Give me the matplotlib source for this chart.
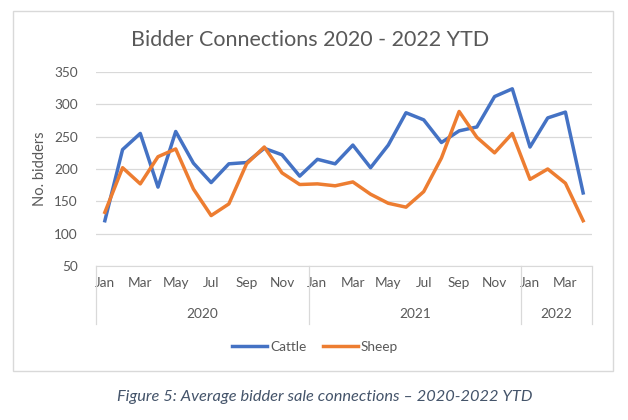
import numpy as np
import matplotlib
matplotlib.use("Agg")
import matplotlib.pyplot as plt
from matplotlib.patches import Rectangle
from matplotlib.lines import Line2D

plt.rcParams["font.family"] = ["Lato", "DejaVu Sans"]

months = ["Jan", "Feb", "Mar", "Apr", "May", "Jun", "Jul", "Aug", "Sep", "Oct", "Nov", "Dec",
          "Jan", "Feb", "Mar", "Apr", "May", "Jun", "Jul", "Aug", "Sep", "Oct", "Nov", "Dec",
          "Jan", "Feb", "Mar", "Apr"]
years = ["2020", "2021", "2022"]
year_counts = [12, 12, 4]

cattle = [120, 230, 255, 172, 258, 209, 179, 208, 210, 232, 222, 189,
          215, 208, 237, 202, 237, 287, 276, 241, 259, 265, 312, 324,
          234, 279, 288, 163]
sheep = [133, 202, 177, 219, 231, 169, 128, 146, 208, 234, 194, 176,
         177, 174, 180, 161, 147, 141, 165, 217, 289, 249, 225, 255,
         184, 200, 178, 120]

W, H = 628, 420
fig = plt.figure(figsize=(W/100, H/100), dpi=100)
ax = fig.add_axes([96/W, 1-266/H, (592-96)/W, (266-72)/H])

grey = "#595959"
gridc = "#D9D9D9"

x = np.arange(len(months))
ax.plot(x, cattle, color="#4472C4", lw=2.5, label="Cattle", solid_joinstyle="round")
ax.plot(x, sheep, color="#ED7D31", lw=2.5, label="Sheep", solid_joinstyle="round")

ax.set_xlim(-0.5, len(months)-0.5)
ax.set_ylim(50, 350)
ax.set_yticks(np.arange(50, 351, 50))
ax.yaxis.grid(True, color=gridc, lw=0.9)
ax.set_axisbelow(True)
for s in ["top", "right", "left"]:
    ax.spines[s].set_visible(False)
ax.spines["bottom"].set_color(gridc)
ax.tick_params(axis="y", length=0, pad=13, labelsize=9.8, labelcolor=grey)
ax.set_xticks(x[::2])
ax.set_xticklabels(months[::2])
ax.tick_params(axis="x", length=0, pad=8, labelsize=9.8, labelcolor=grey)
ax.set_ylabel("No. bidders", fontsize=10.5, color=grey, labelpad=5)

# year level of the category axis
start = 0
bounds = [start]
for n in year_counts:
    start += n
    bounds.append(start)
tr = ax.get_xaxis_transform()
for i, yr in enumerate(years):
    mid = (bounds[i] + bounds[i+1]) / 2 - 0.5
    ax.text(mid, -0.25, yr, transform=tr, ha="center", va="center", fontsize=9.8, color=grey)
for b in bounds:
    ax.add_line(Line2D([b-0.5, b-0.5], [0, -0.3], transform=tr, color=gridc, lw=0.9, clip_on=False))

fig.text(310/W, 1-40/H, "Bidder Connections 2020 - 2022 YTD", ha="center", va="center",
         fontsize=15.5, color=grey)

fig.legend(loc="center", bbox_to_anchor=(315/W, 1-347/H), ncol=2, frameon=False,
           fontsize=9.8, handlelength=2.6, handletextpad=0.2, columnspacing=1.2, labelcolor=grey)

fig.patches.append(Rectangle((13/W, 1-371/H), 600/W, 360/H, transform=fig.transFigure,
                             fill=False, edgecolor=gridc, lw=1))

fig.text(325/W, 1-397/H, "Figure 5: Average bidder sale connections \u2013 2020-2022 YTD",
         ha="center", va="center", fontsize=11.8, style="italic", color="#44546A")

fig.savefig("out.png", dpi=100)
